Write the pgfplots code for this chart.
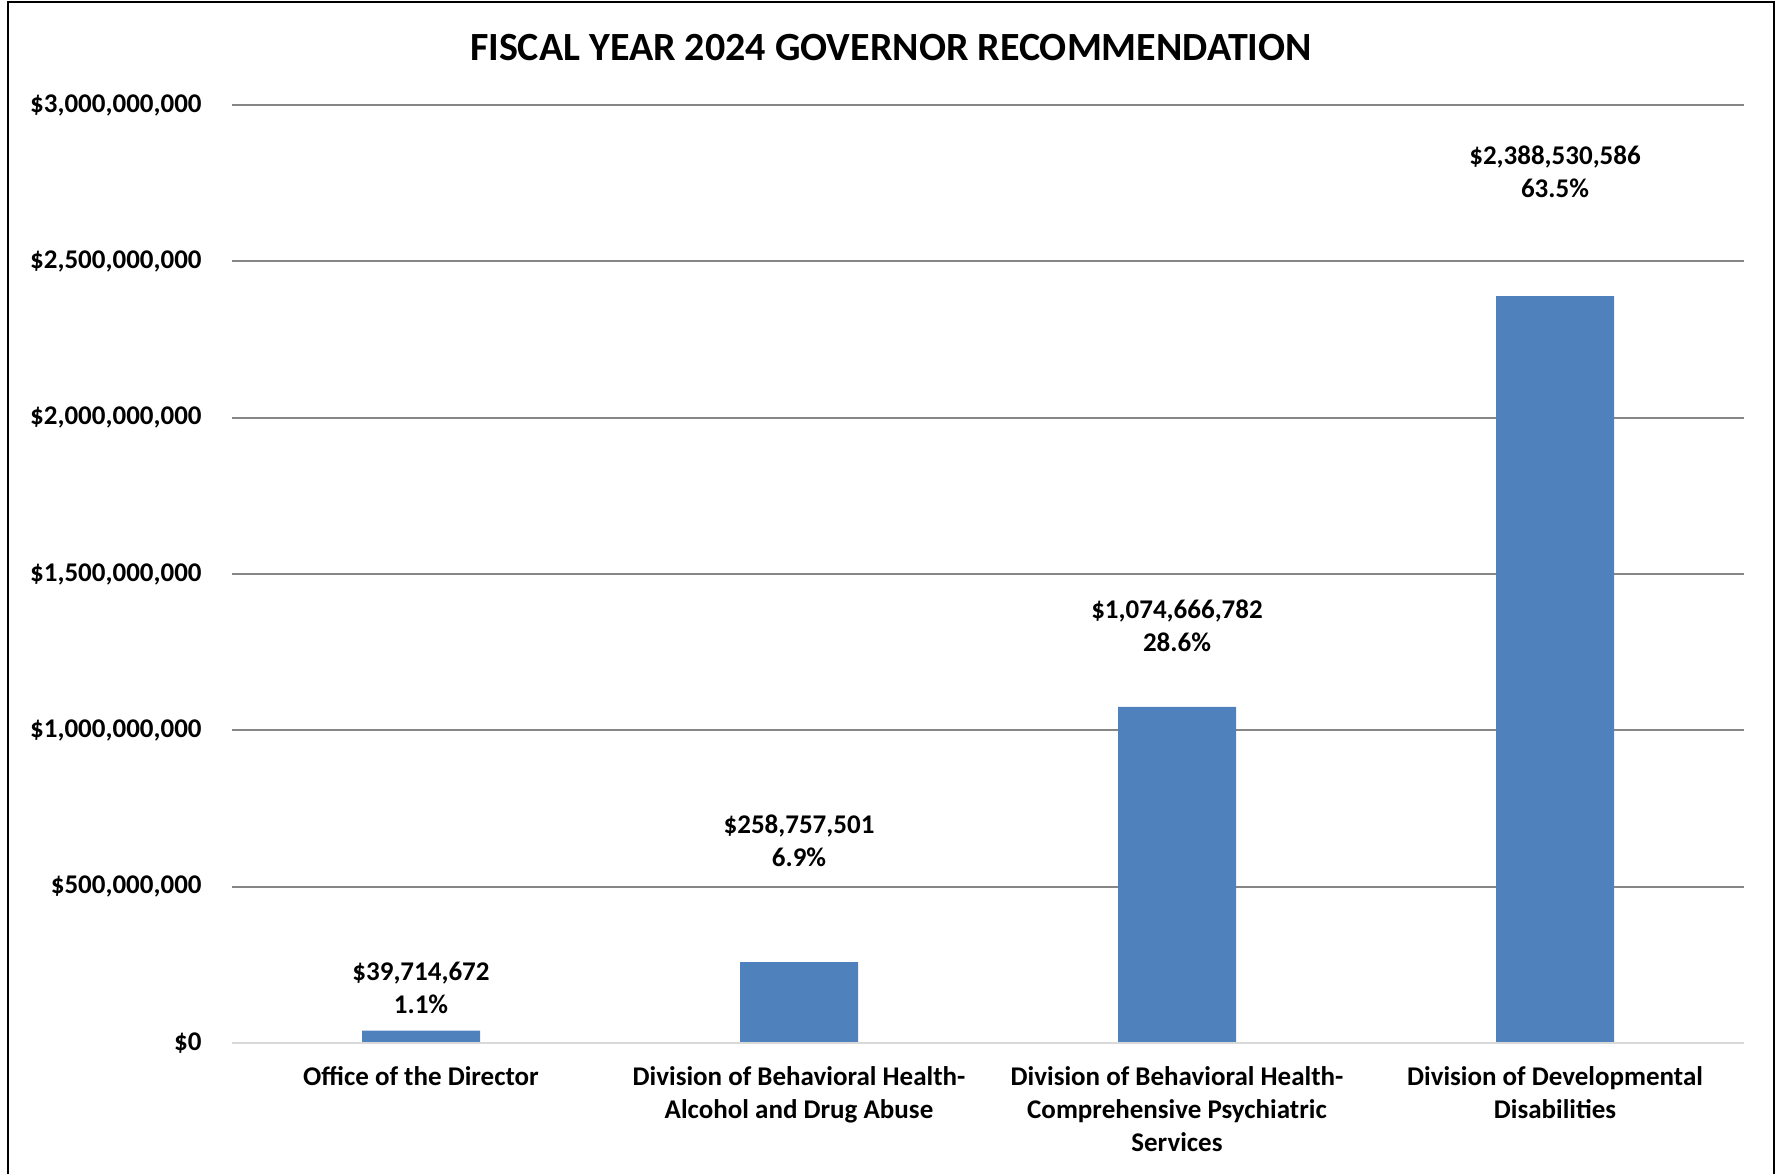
\documentclass[border=0pt]{standalone}
\usepackage{pgfplots}
\pgfplotsset{compat=1.18}
\usepackage{fontspec}
\setmainfont{Carlito}
\definecolor{barblue}{HTML}{4F81BD}
\definecolor{gridgray}{HTML}{868686}
\definecolor{zerogray}{HTML}{D9D9D9}
\begin{document}
\begin{tikzpicture}[x=1pt,y=1pt]
\useasboundingbox (0,0) rectangle (888,586.5);
\draw[line width=1pt] (4,-20) rectangle (887,585.5);
\node[font=\fontsize{20}{24}\selectfont\bfseries] at (445.5,562.7) {FISCAL YEAR 2024 GOVERNOR RECOMMENDATION};
\begin{axis}[
  at={(116pt,65pt)}, anchor=south west,
  scale only axis, width=756pt, height=469pt,
  xmin=-0.5, xmax=3.5, ymin=0, ymax=3e9,
  scaled ticks=false,
  axis line style={draw=none},
  ybar, bar width=59pt,
  xtick={0,1,2,3},
  xticklabels={Office of the Director, {Division of Behavioral Health-\\Alcohol and Drug Abuse}, {Division of Behavioral Health-\\Comprehensive Psychiatric\\Services}, {Division of Developmental\\Disabilities}},
  ytick={0,5e8,1e9,1.5e9,2e9,2.5e9,3e9},
  yticklabels={{\$0},{\$500,000,000},{\$1,000,000,000},{\$1,500,000,000},{\$2,000,000,000},{\$2,500,000,000},{\$3,000,000,000}},
  major tick length=0pt,
  ymajorgrids, grid style={gridgray, line width=1pt},
  tick label style={font=\fontsize{13.5}{16.5}\selectfont\bfseries},
  yticklabel style={anchor=east, inner sep=0pt, xshift=-15pt},
  xticklabel style={align=center, anchor=north, inner sep=0pt, yshift=-11.7pt},
  clip=false,
]
\addplot[fill=barblue, draw=none] coordinates {(0,39714672) (1,258757501) (2,1074666782) (3,2388530586)};
\draw[zerogray, line width=1pt] (axis cs:-0.5,0) -- (axis cs:3.5,0);
\begin{scope}[every node/.style={align=center, font=\fontsize{13.5}{16.5}\selectfont\bfseries}]
\node at (axis cs:0,175.7e6) {\$39,714,672\\1.1\%};
\node at (axis cs:1,646.7e6) {\$258,757,501\\6.9\%};
\node at (axis cs:2,1333e6) {\$1,074,666,782\\28.6\%};
\node at (axis cs:3,2786e6) {\$2,388,530,586\\63.5\%};
\end{scope}
\end{axis}
\end{tikzpicture}
\end{document}
